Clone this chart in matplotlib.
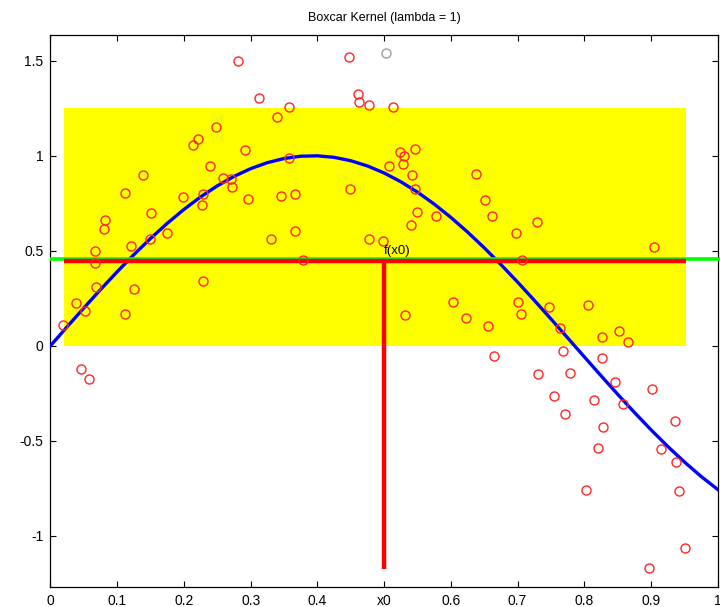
import matplotlib
matplotlib.use("Agg")
import matplotlib.pyplot as plt
from matplotlib.patches import Rectangle

plt.rcParams['font.family'] = ['Liberation Sans', 'DejaVu Sans']

# observed sample points
pts_x = [0.019, 0.039, 0.046, 0.051, 0.057, 0.067, 0.067, 0.068, 0.080, 0.082,
         0.112, 0.112, 0.120, 0.125, 0.139, 0.149, 0.151, 0.174, 0.199, 0.213,
         0.221, 0.227, 0.228, 0.229, 0.239, 0.248, 0.258, 0.270, 0.272, 0.281,
         0.291, 0.296, 0.313, 0.330, 0.339, 0.345, 0.357, 0.358, 0.366, 0.367,
         0.379, 0.447, 0.449, 0.461, 0.462, 0.478, 0.478, 0.499, 0.507, 0.513,
         0.524, 0.530, 0.547, 0.528, 0.542, 0.547, 0.550, 0.540, 0.532, 0.578,
         0.603, 0.623, 0.638, 0.651, 0.655, 0.662, 0.665, 0.698, 0.700, 0.705,
         0.706, 0.729, 0.730, 0.747, 0.754, 0.764, 0.768, 0.771, 0.779, 0.802,
         0.806, 0.815, 0.820, 0.826, 0.826, 0.828, 0.846, 0.852, 0.858, 0.866,
         0.897, 0.902, 0.905, 0.915, 0.936, 0.937, 0.942, 0.951]
pts_y = [0.107, 0.223, -0.124, 0.184, -0.177, 0.500, 0.434, 0.307, 0.614, 0.662,
         0.805, 0.167, 0.523, 0.298, 0.897, 0.563, 0.700, 0.595, 0.781, 1.055,
         1.086, 0.741, 0.798, 0.340, 0.947, 1.149, 0.884, 0.877, 0.837, 1.498,
         1.030, 0.770, 1.305, 0.560, 1.205, 0.789, 1.258, 0.988, 0.800, 0.605,
         0.451, 1.521, 0.825, 1.325, 1.283, 1.267, 0.560, 0.553, 0.947, 1.256,
         1.018, 1.000, 1.037, 0.955, 0.897, 0.826, 0.705, 0.635, 0.160, 0.684,
         0.230, 0.146, 0.905, 0.767, 0.104, 0.684, -0.053, 0.595, 0.230, 0.167,
         0.451, 0.653, -0.149, 0.202, -0.265, 0.092, -0.026, -0.359, -0.142, -0.759,
         0.214, -0.286, -0.537, 0.047, -0.063, -0.430, -0.193, 0.079, -0.307, 0.021,
         -1.172, -0.226, 0.521, -0.542, -0.396, -0.611, -0.763, -1.063]
gray_x = [0.503]
gray_y = [1.539]

# true curve
curve_x = [0.0, 0.025, 0.05, 0.075, 0.1, 0.125, 0.15, 0.175, 0.2, 0.225,
           0.25, 0.275, 0.3, 0.325, 0.35, 0.375, 0.4, 0.425, 0.45, 0.475,
           0.5, 0.525, 0.55, 0.575, 0.6, 0.625, 0.65, 0.675, 0.7, 0.725,
           0.75, 0.775, 0.8, 0.825, 0.85, 0.875, 0.9, 0.925, 0.95, 0.975, 1.0]
curve_y = [0.0, 0.0998, 0.1987, 0.2955, 0.3894, 0.4794, 0.5646, 0.6442, 0.7174, 0.7833,
           0.8415, 0.8912, 0.9320, 0.9636, 0.9854, 0.9975, 0.9996, 0.9917, 0.9738, 0.9463,
           0.9093, 0.8632, 0.8085, 0.7457, 0.6755, 0.5985, 0.5155, 0.4274, 0.3350, 0.2392,
           0.1411, 0.0416, -0.0584, -0.1577, -0.2555, -0.3508, -0.4425, -0.5298, -0.6119, -0.6878,
           -0.7568]

x0 = 0.5
fx0 = 0.447
global_mean = 0.455
box_x = [0.021, 0.953]
box_y = [0.0, 1.25]
vline_bottom = -1.175

xticks = [0, 0.1, 0.2, 0.3, 0.4, 0.5, 0.6, 0.7, 0.8, 0.9, 1.0]
xticklabels = ['0', '0.1', '0.2', '0.3', '0.4', 'x0', '0.6', '0.7', '0.8', '0.9', '1']
yticks = [-1, -0.5, 0, 0.5, 1, 1.5]
yticklabels = ['-1', '-0.5', '0', '0.5', '1', '1.5']

fig = plt.figure(figsize=(7.2, 6.07), dpi=100)
ax = fig.add_axes([0.0701, 0.0329, 0.9268, 0.9099])

ax.add_patch(Rectangle((box_x[0], box_y[0]), box_x[1] - box_x[0], box_y[1] - box_y[0],
                       facecolor=(1, 1, 0), edgecolor='none', zorder=1))
ax.plot(curve_x, curve_y, color=(0, 0, 1), lw=2.4, zorder=3)
ax.plot([0, 1.005], [global_mean, global_mean], color=(0, 1, 0), lw=2.6,
        zorder=4, clip_on=False, solid_capstyle='butt')
ax.plot(box_x, [fx0, fx0], color=(1, 0, 0), lw=3.2, zorder=5, solid_capstyle='butt')
ax.plot([x0, x0], [vline_bottom, fx0], color=(1, 0, 0), lw=3.2, zorder=5,
        solid_capstyle='butt')
ax.plot(pts_x, pts_y, linestyle='none', marker='o', markersize=6.5,
        markerfacecolor='none', markeredgecolor=(1, 0.15, 0.15), markeredgewidth=1.0, zorder=6)
ax.plot(gray_x, gray_y, linestyle='none', marker='o', markersize=6.5,
        markerfacecolor='none', markeredgecolor=(0.62, 0.62, 0.62), markeredgewidth=1.0, zorder=6)
ax.text(x0, fx0 + 0.02, 'f(x0)', fontsize=9.5, ha='left', va='bottom', zorder=7)

ax.set_xlim(0, 1)
ax.set_ylim(-1.27, 1.637)
ax.set_xticks(xticks)
ax.set_xticklabels(xticklabels)
ax.set_yticks(yticks)
ax.set_yticklabels(yticklabels)
ax.tick_params(direction='in', top=True, right=True, length=4.5, width=0.8,
               labelsize=10, pad=5)
for s in ax.spines.values():
    s.set_linewidth(0.9)
ax.set_title('Boxcar Kernel (lambda = 1)', fontsize=9, pad=10)

fig.savefig('out.png', dpi=100)
